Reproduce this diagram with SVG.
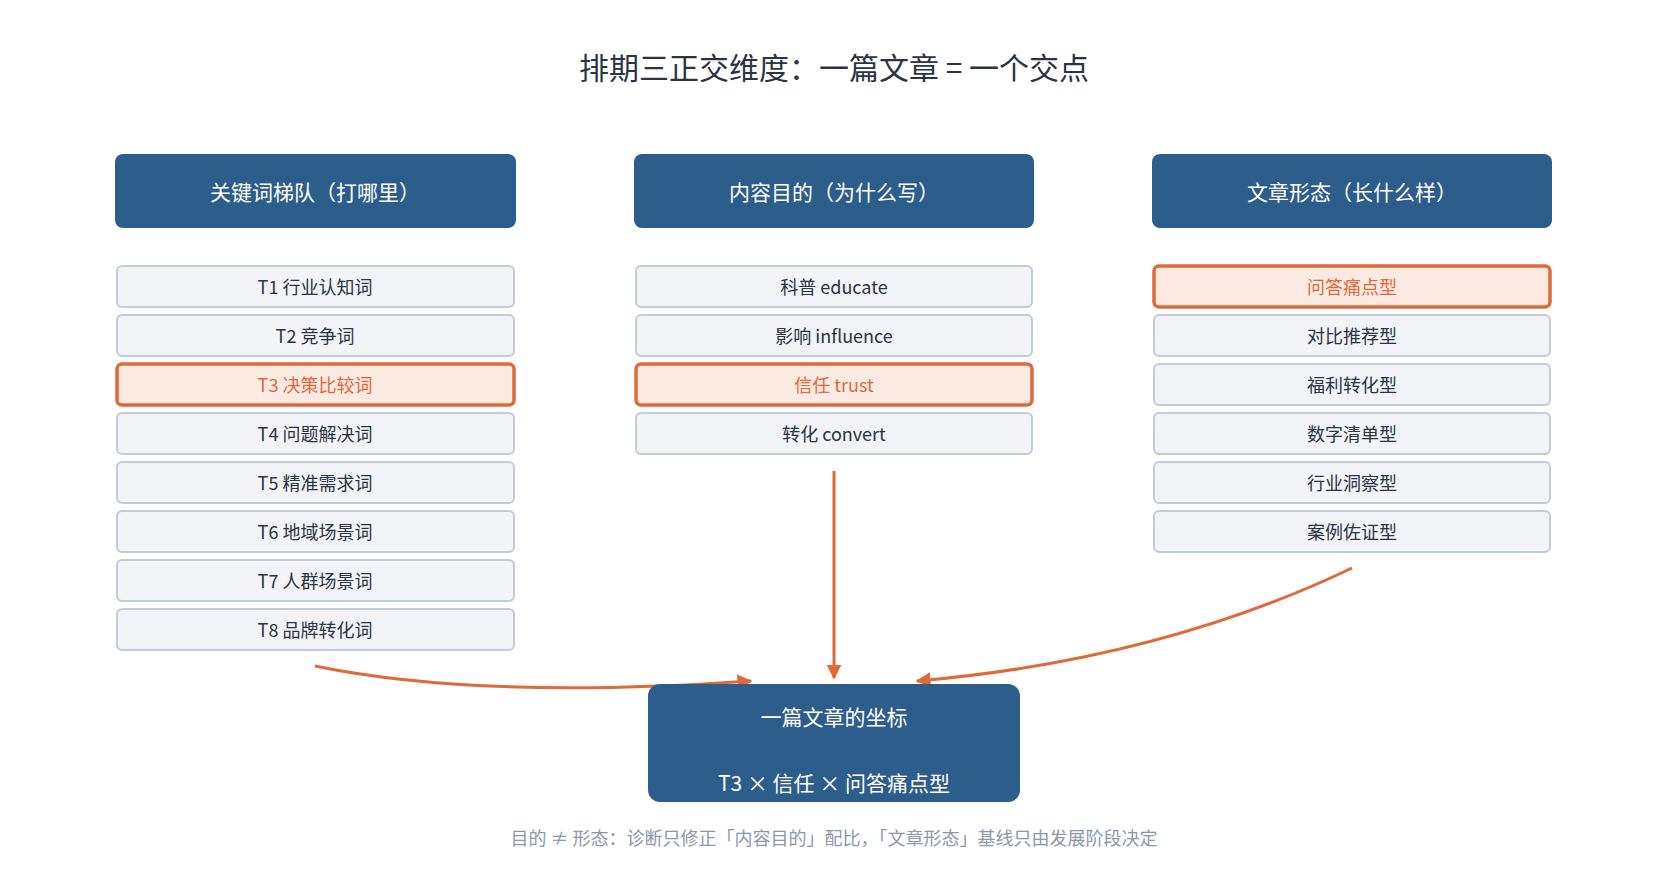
<svg xmlns="http://www.w3.org/2000/svg" width="1660" height="885" viewBox="0 0 1660 885">
<style>
text{font-family:"Noto Sans CJK SC","Noto Sans",sans-serif;text-anchor:middle;dominant-baseline:central}
.h rect{fill:#2c5d8b}
.h text{fill:#fff;font-size:21px}
.i rect{fill:#f1f3f6;stroke:#c3cbd5;stroke-width:2}
.i text{fill:#2b3440;font-size:18px}
.s rect{fill:#fbeae2;stroke:#e0693a;stroke-width:3.5}
.s text{fill:#e0693a;font-size:18px}
.c{fill:none;stroke:#e0693a;stroke-width:3}
</style>
<defs><marker id="a" viewBox="0 0 10 10" refX="9" refY="5" markerWidth="5" markerHeight="5" orient="auto"><path d="M0,0L10,5L0,10z" fill="#e0693a"/></marker></defs>
<rect width="1660" height="885" fill="#fff"/>
<text x="834" y="66" font-size="30" fill="#2b3440">排期三正交维度：一篇文章 = 一个交点</text>
<g id="h1" class="h"><rect x="115" y="154" width="401" height="74" rx="8"/><text x="315" y="191">关键词梯队（打哪里）</text></g>
<g id="h2" class="h"><rect x="634" y="154" width="400" height="74" rx="8"/><text x="834" y="191">内容目的（为什么写）</text></g>
<g id="h3" class="h"><rect x="1152" y="154" width="400" height="74" rx="8"/><text x="1352" y="191">文章形态（长什么样）</text></g>
<g id="k1" class="i"><rect x="117" y="266" width="397" height="41" rx="5"/><text x="315" y="286">T1 行业认知词</text></g>
<g id="k2" class="i"><rect x="117" y="315" width="397" height="41" rx="5"/><text x="315" y="335">T2 竞争词</text></g>
<g id="k3" class="s"><rect x="117" y="364" width="397" height="41" rx="5"/><text x="315" y="384">T3 决策比较词</text></g>
<g id="k4" class="i"><rect x="117" y="413" width="397" height="41" rx="5"/><text x="315" y="433">T4 问题解决词</text></g>
<g id="k5" class="i"><rect x="117" y="462" width="397" height="41" rx="5"/><text x="315" y="482">T5 精准需求词</text></g>
<g id="k6" class="i"><rect x="117" y="511" width="397" height="41" rx="5"/><text x="315" y="531">T6 地域场景词</text></g>
<g id="k7" class="i"><rect x="117" y="560" width="397" height="41" rx="5"/><text x="315" y="580">T7 人群场景词</text></g>
<g id="k8" class="i"><rect x="117" y="609" width="397" height="41" rx="5"/><text x="315" y="629">T8 品牌转化词</text></g>
<g id="p1" class="i"><rect x="636" y="266" width="396" height="41" rx="5"/><text x="834" y="286">科普 educate</text></g>
<g id="p2" class="i"><rect x="636" y="315" width="396" height="41" rx="5"/><text x="834" y="335">影响 influence</text></g>
<g id="p3" class="s"><rect x="636" y="364" width="396" height="41" rx="5"/><text x="834" y="384">信任 trust</text></g>
<g id="p4" class="i"><rect x="636" y="413" width="396" height="41" rx="5"/><text x="834" y="433">转化 convert</text></g>
<g id="f1" class="s"><rect x="1154" y="266" width="396" height="41" rx="5"/><text x="1352" y="286">问答痛点型</text></g>
<g id="f2" class="i"><rect x="1154" y="315" width="396" height="41" rx="5"/><text x="1352" y="335">对比推荐型</text></g>
<g id="f3" class="i"><rect x="1154" y="364" width="396" height="41" rx="5"/><text x="1352" y="384">福利转化型</text></g>
<g id="f4" class="i"><rect x="1154" y="413" width="396" height="41" rx="5"/><text x="1352" y="433">数字清单型</text></g>
<g id="f5" class="i"><rect x="1154" y="462" width="396" height="41" rx="5"/><text x="1352" y="482">行业洞察型</text></g>
<g id="f6" class="i"><rect x="1154" y="511" width="396" height="41" rx="5"/><text x="1352" y="531">案例佐证型</text></g>
<g id="conn">
<path class="c" d="M315,666 Q480,700 751,681" marker-end="url(#a)"/>
<path class="c" d="M834,471 L834,678" marker-end="url(#a)"/>
<path class="c" d="M1352,568 Q1160,660 917,681" marker-end="url(#a)"/>
</g>
<g id="res" class="h"><rect x="648" y="684" width="372" height="118" rx="12"/><text x="834" y="716">一篇文章的坐标</text><text x="834" y="782" font-size="20">T3 × 信任 × 问答痛点型</text></g>
<text x="834" y="837" font-size="18" fill="#8a98a8">目的 ≠ 形态：诊断只修正「内容目的」配比，「文章形态」基线只由发展阶段决定</text>
</svg>
